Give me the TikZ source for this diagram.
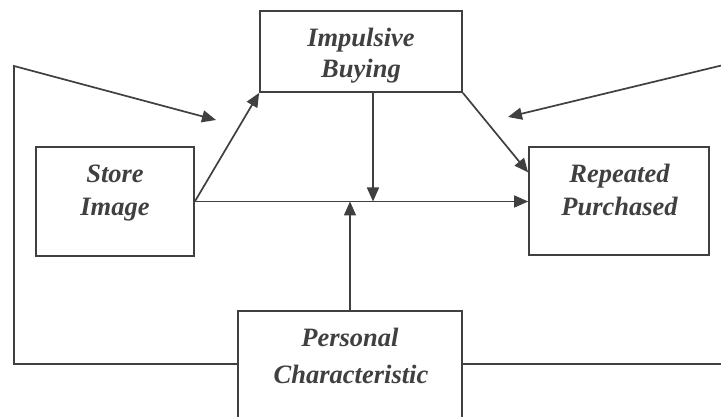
\documentclass[tikz,border=0pt]{standalone}
\usepackage{fontspec}
\setmainfont{Liberation Serif}
\usetikzlibrary{arrows.meta,calc}
\definecolor{dk}{HTML}{404040}
\tikzset{
  box/.style={draw=dk, line width=1.7pt, rectangle, inner sep=0pt},
  txt/.style={anchor=base, inner sep=0pt, text=dk, font=\fontsize{26.5}{32}\selectfont\bfseries\itshape},
  conn/.style={draw=dk, line width=1.7pt},
  arr/.style={conn, -{Triangle[length=14pt, width=12pt]}},
}
\begin{document}
\begin{tikzpicture}[x=1pt, y=-1pt]
\useasboundingbox (0,0) rectangle (721,417);
\fill[white] (0,0) rectangle (721,417);
\clip (0,0) rectangle (721,417);
% boxes
\node[box, minimum width=202pt, minimum height=81pt] (ib) at (361,51.5) {};
\node[box, minimum width=158pt, minimum height=109pt] (si) at (115,201.5) {};
\node[box, minimum width=180pt, minimum height=108pt] (rp) at (619,201) {};
\node[box, minimum width=224pt, minimum height=130pt, anchor=north] (pc) at (350,310) {};
% texts
\node[txt] (ib1) at (361,46.7) {Impulsive};
\node[txt] (ib2) at (361,77.3) {Buying};
\node[txt] (si1) at (115,183) {Store};
\node[txt] (si2) at (115,215) {Image};
\node[txt] (rp1) at (619.5,183) {Repeated};
\node[txt] (rp2) at (619.5,215) {Purchased};
\node[txt] (pc1) at (350,346) {Personal};
\node[txt] (pc2) at (351,383) {Characteristic};
% helper coordinates
\coordinate (ibv) at ([xshift=12pt]ib.south);
\coordinate (rpin) at ($(rp.north west)!0.24!(rp.south west)$);
\coordinate (pcw) at ([yshift=-54pt]pc.north west);
\coordinate (pce) at ([yshift=-54pt]pc.north east);
\coordinate (lb) at (14,364);
\coordinate (lt) at (14,66);
\coordinate (la) at (216,120);
\coordinate (rb) at (740,364);
\coordinate (rt) at (740,61);
\coordinate (ra) at (508,117);
% connectors
\draw[arr] (si.east) -- (ib.south west);
\draw[arr] (si.east) -- (si.east -| rp.west);
\draw[arr] (ibv) -- (ibv |- si.east);
\draw[arr] (pc.north) -- (pc.north |- si.east);
\draw[arr] (ib.south east) -- (rpin);
\draw[arr] (pcw) -- (lb) -- (lt) -- (la);
\draw[arr] (pce) -- (rb) -- (rt) -- (ra);
\end{tikzpicture}
\end{document}
